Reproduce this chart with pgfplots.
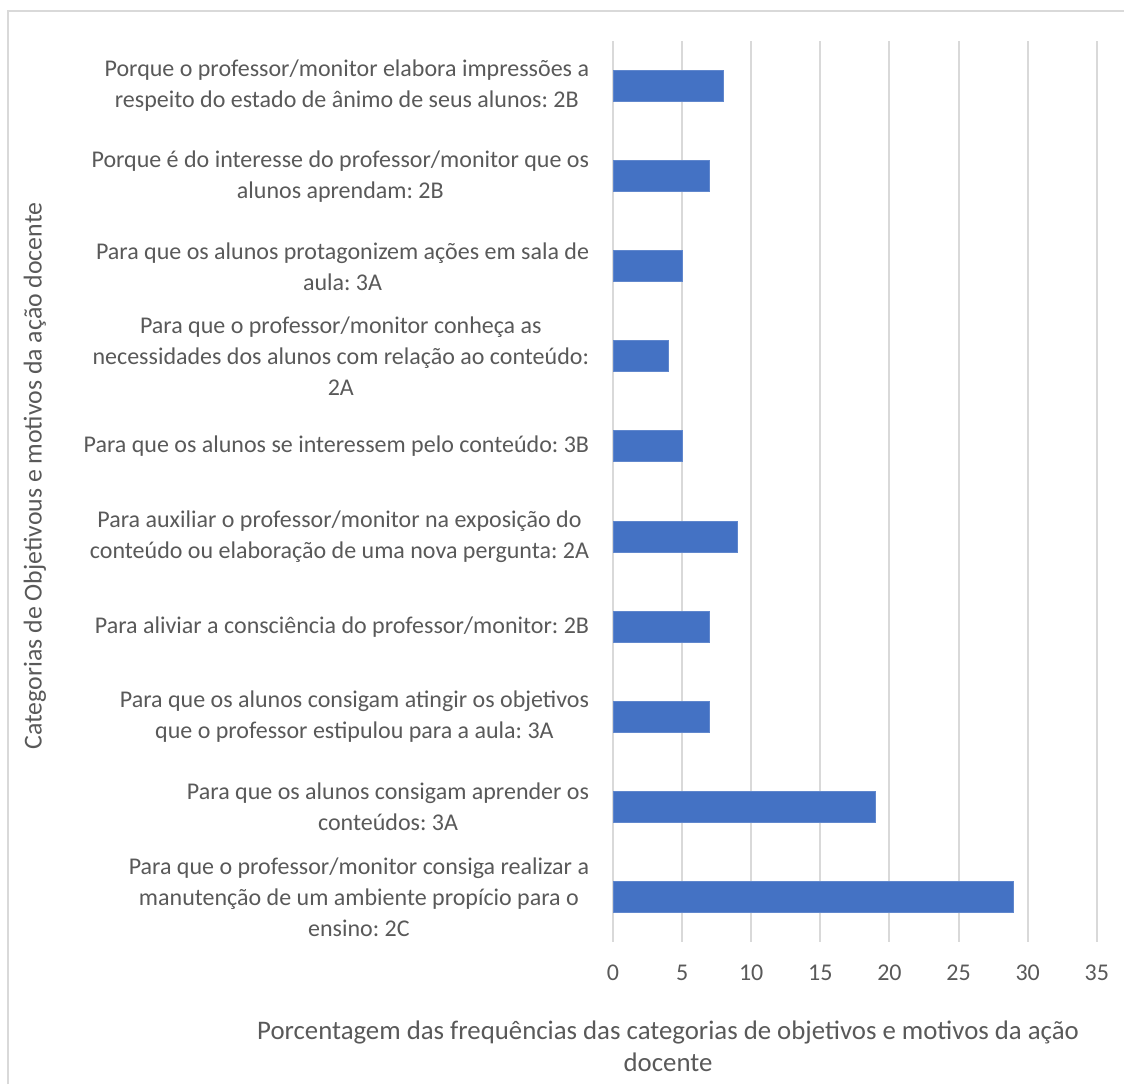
\documentclass[border=0pt]{standalone}
\usepackage{pgfplots}
\pgfplotsset{compat=1.18}
\usepackage{fontspec}
\setmainfont{Carlito}
\frenchspacing
\definecolor{txt}{HTML}{595959}
\definecolor{gridc}{HTML}{D9D9D9}
\definecolor{barc}{HTML}{4472C4}
\begin{document}
\begin{tikzpicture}
\useasboundingbox (0pt,0pt) rectangle (562pt,-542pt);
\draw[gridc, line width=0.75pt] (4pt,-542pt) -- (4pt,-5.5pt) -- (562pt,-5.5pt);
\begin{axis}[
  at={(306.5pt,-471pt)}, anchor=south west,
  scale only axis, width=241.9pt, height=450.5pt,
  xbar, bar width=15.5pt,
  xmin=0, xmax=35, xtick={0,5,...,35},
  ymin=0.5, ymax=10.5, y dir=reverse, ytick={1,...,10},
  yticklabels={
    {Porque o professor/monitor elabora impressões a\\respeito do estado de ânimo de seus alunos: 2B},
    {Porque é do interesse do professor/monitor que os\\alunos aprendam: 2B},
    {Para que os alunos protagonizem ações em sala de\\aula: 3A},
    {Para que o professor/monitor conheça as\\necessidades dos alunos com relação ao conteúdo:\\2A},
    {Para que os alunos se interessem pelo conteúdo: 3B},
    {Para auxiliar o professor/monitor na exposição do\\conteúdo ou elaboração de uma nova pergunta: 2A},
    {Para aliviar a consciência do professor/monitor: 2B},
    {Para que os alunos consigam atingir os objetivos\\que o professor estipulou para a aula: 3A},
    {Para que os alunos consigam aprender os\\conteúdos: 3A},
    {Para que o professor/monitor consiga realizar a\\manutenção de um ambiente propício para o\\ensino: 2C}
  },
  axis line style={draw=none},
  tick style={draw=none},
  xmajorgrids, grid style={gridc, line width=1pt},
  /pgf/number format/assume math mode=true,
  yticklabel style={align=center, anchor=east, inner sep=0pt, xshift=-7.5pt,
    font=\fontsize{12pt}{15.5pt}\selectfont, text=txt},
  xticklabel style={anchor=center, inner sep=0pt, yshift=-15.5pt,
    font=\fontsize{12pt}{15.5pt}\selectfont, text=txt},
  clip=false,
]
\addplot[fill=barc, draw=barc!85!white, line width=0.5pt] coordinates {
  (8,1) (7,2) (5,3) (4,4) (5,5) (9,6) (7,7) (7,8) (19,9) (29,10)};
\end{axis}
\node[rotate=90, text=txt, font=\fontsize{12.9pt}{15.5pt}\selectfont] at (17.5pt,-238pt) {Categorias de Objetivous e motivos da ação docente};
\node[align=center, text=txt, font=\fontsize{13.4pt}{16pt}\selectfont] at (334pt,-523pt) {Porcentagem das frequências das categorias de objetivos e motivos da ação\\docente};
\end{tikzpicture}
\end{document}
